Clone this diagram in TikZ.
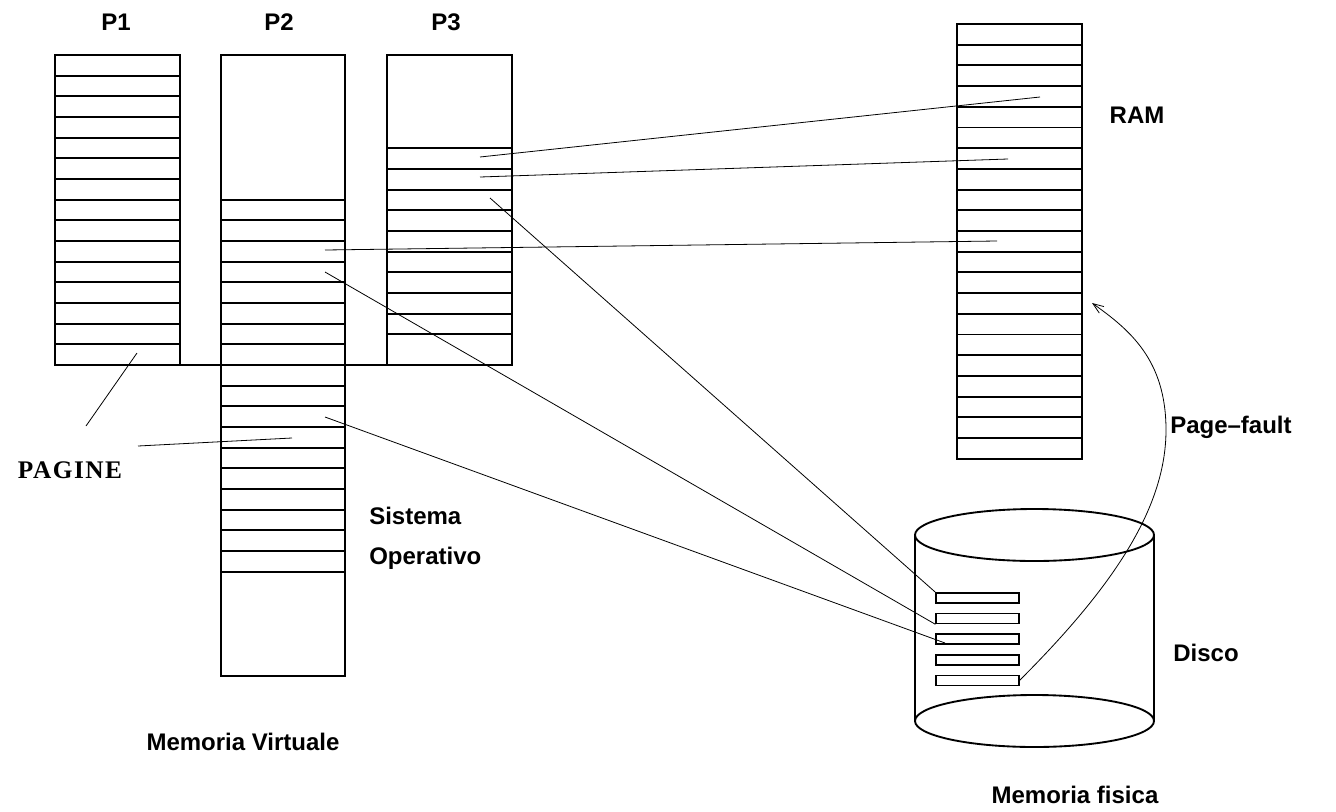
\documentclass[tikz,border=0pt]{standalone}
\usepackage{fontspec}
\setmainfont{Liberation Sans}
\newfontfamily\pagfont[LetterSpace=6]{Liberation Serif}
\usetikzlibrary{arrows.meta}
\usetikzlibrary{calc}
\usetikzlibrary{positioning}

\tikzset{
	memcol/.style={line width=1.4pt},
	conn/.style={line width=0.6pt},
	slot/.style={draw,line width=1.1pt,rectangle,minimum width=62pt,minimum height=7.5pt,inner sep=0pt},
	lbl/.style={font=\fontsize{18}{30}\selectfont\bfseries,inner sep=0pt},
}

\begin{document}
\begin{tikzpicture}[x=0.75pt,y=-0.75pt]
		\useasboundingbox (0,0) rectangle (1336,811);

		% memoria virtuale
		\draw [memcol] (55,55) rectangle (180,365);
		\foreach \k in {1,...,14}
			\draw [memcol] (55,55+\k*20.67) -- (180,55+\k*20.67);
		\draw [memcol] (221,55) rectangle (345,676);
		\foreach \k in {7,...,25}
			\draw [memcol] (221,55+\k*20.67) -- (345,55+\k*20.67);
		\draw [memcol] (387,55) rectangle (512,365);
		\foreach \k in {0,...,9}
			\draw [memcol] (387,148.3+\k*20.67) -- (512,148.3+\k*20.67);
		\draw [memcol] (55,365) -- (512,365);

		% RAM
		\draw [memcol] (957,24) rectangle (1082,459);
		\foreach \k in {1,...,20}
			\draw [memcol] (957,24+\k*20.7) -- (1082,24+\k*20.7);

		% disco
		\draw [memcol] (915,535) -- (915,721);
		\draw [memcol] (1154,535) -- (1154,721);
		\draw [memcol] (1034.5,535) ellipse [x radius=119.5,y radius=26];
		\draw [memcol] (1034.5,721) ellipse [x radius=119.5,y radius=26];
		\foreach \i in {1,...,5}
			\node [slot] (disk\i) at (977.5,598+20.6*\i-20.6) {};

		% end points
		\coordinate (p3a) at (480,157);
		\coordinate (p3b) at (480,177);
		\coordinate (p3c) at (490,198);
		\coordinate (p2a) at (325,250);
		\coordinate (p2b) at (325,272);
		\coordinate (p2c) at (325,417);
		\coordinate (rama) at (1040,97);
		\coordinate (ramb) at (1008,159);
		\coordinate (ramc) at (997,241);
		\coordinate (ramd) at (1092,303);
		\coordinate (d3) at (945,643);
		\coordinate (p1pg) at (137,353);
		\coordinate (p2pg) at (292,438);

		% labels
		\node [lbl] (P1) at (116,22) {P1};
		\node [lbl] (P2) at (279,22) {P2};
		\node [lbl] (P3) at (446,22) {P3};
		\node [lbl] (ram) at (1137,115) {RAM};
		\node [lbl,anchor=west] (fault) at (1170,427) {Page--fault};
		\node [lbl] (disco) at (1206,653) {Disco};
		\node [lbl] (virt) at (243,742) {Memoria Virtuale};
		\node [lbl] (fis) at (1075,795) {Memoria fisica};
		\node [lbl,anchor=west,align=left] (so) at (369,538) {Sistema\\Operativo};
		\node [inner sep=0pt,font=\pagfont\bfseries\fontsize{19}{24}\selectfont] (pagine) at (70,470) {PAGINE};
		\coordinate (pagA) at (86,426);
		\coordinate (pagB) at (138,446);

		% connectors
		\draw [conn] (p3a) -- (rama);
		\draw [conn] (p3b) -- (ramb);
		\draw [conn] (p2a) -- (ramc);
		\draw [conn] (p3c) -- (disk1.north west);
		\draw [conn] (p2b) -- (disk2.south west);
		\draw [conn] (p2c) -- (d3);
		\draw [conn] (pagA) -- (p1pg);
		\draw [conn] (pagB) -- (p2pg);
		\draw [conn,-{Straight Barb[length=8pt,width=6pt]}] (disk5.east)
			.. controls (1110,590) and (1166,510) .. (1166,430)
			.. controls (1166,360) and (1130,330) .. (ramd);
	\end{tikzpicture}
\end{document}
